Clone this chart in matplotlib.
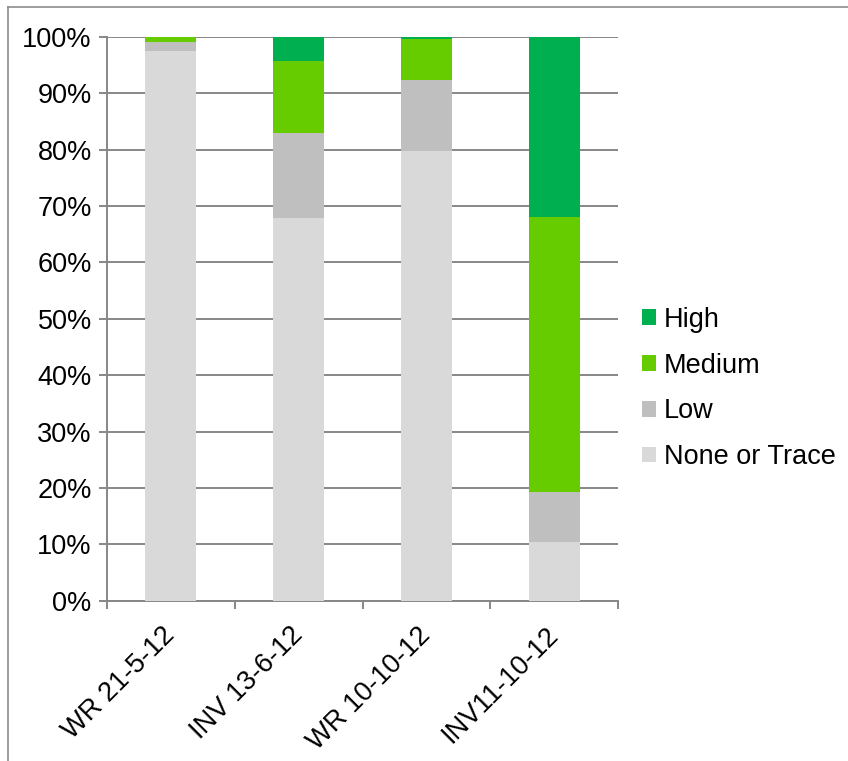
import matplotlib
matplotlib.use("Agg")
import matplotlib.pyplot as plt
from matplotlib.lines import Line2D
from matplotlib.patches import Patch
import numpy as np

categories = ["WR 21-5-12", "INV 13-6-12", "WR 10-10-12", "INV11-10-12"]
none_trace = [97.5, 67.9, 79.8, 10.4]
low = [1.6, 15.0, 12.6, 8.8]
medium = [0.9, 12.8, 7.2, 48.8]
high = [0.0, 4.3, 0.4, 32.0]

series = [
    ("None or Trace", none_trace, "#D9D9D9"),
    ("Low", low, "#BFBFBF"),
    ("Medium", medium, "#66CC00"),
    ("High", high, "#00B050"),
]

plt.rcParams["font.family"] = ["Liberation Sans", "DejaVu Sans"]
FS = 19.5
GRID = "#878787"

fig = plt.figure(figsize=(8.48, 7.61), dpi=100)
ax = fig.add_axes([0.1262, 0.2106, 0.6026, 0.7411])

x = np.arange(len(categories))
bottom = np.zeros(len(categories))
handles = []
for name, vals, color in series:
    vals = np.array(vals)
    ax.bar(x, vals, width=0.4, bottom=bottom, color=color, edgecolor="none", zorder=3)
    bottom += vals
    handles.append(Patch(facecolor=color, edgecolor="none", label=name))

ax.set_xlim(-0.5, len(categories) - 0.5)
ax.set_ylim(0, 100)
ax.set_yticks(np.arange(0, 101, 10))
ax.set_yticklabels([f"{v}%" for v in range(0, 101, 10)], fontsize=FS)
ax.yaxis.grid(True, color=GRID, linewidth=1.4, zorder=0)
ax.set_axisbelow(True)

ax.set_xticks(x)
ax.set_xticklabels(categories, fontsize=FS, rotation=45, ha="right", va="center",
                   rotation_mode="anchor")
ax.tick_params(axis="x", length=0, pad=22)
ax.set_xticks(np.arange(-0.5, len(categories), 1.0), minor=True)
ax.tick_params(axis="x", which="minor", length=6, width=1.4, color=GRID)
ax.tick_params(axis="y", length=6, width=1.4, color=GRID, pad=5)

for side in ("top", "right"):
    ax.spines[side].set_visible(False)
for side in ("left", "bottom"):
    ax.spines[side].set_color(GRID)
    ax.spines[side].set_linewidth(1.4)

fig.legend(handles=handles[::-1], loc="center left",
           bbox_to_anchor=(0.741, 0.4895), frameon=False, fontsize=FS,
           handlelength=0.52, handleheight=0.52, handletextpad=0.3,
           labelspacing=0.73, borderpad=0.0)

# outer chart border (top and left edges)
W, H = 848, 761
fig.add_artist(Line2D([8 / W, 1.0], [1 - 7 / H, 1 - 7 / H],
                      transform=fig.transFigure, color="#8C8C8C", linewidth=1.2))
fig.add_artist(Line2D([8 / W, 8 / W], [0.0, 1 - 7 / H],
                      transform=fig.transFigure, color="#8C8C8C", linewidth=1.2))

fig.savefig("out.png", dpi=100)
